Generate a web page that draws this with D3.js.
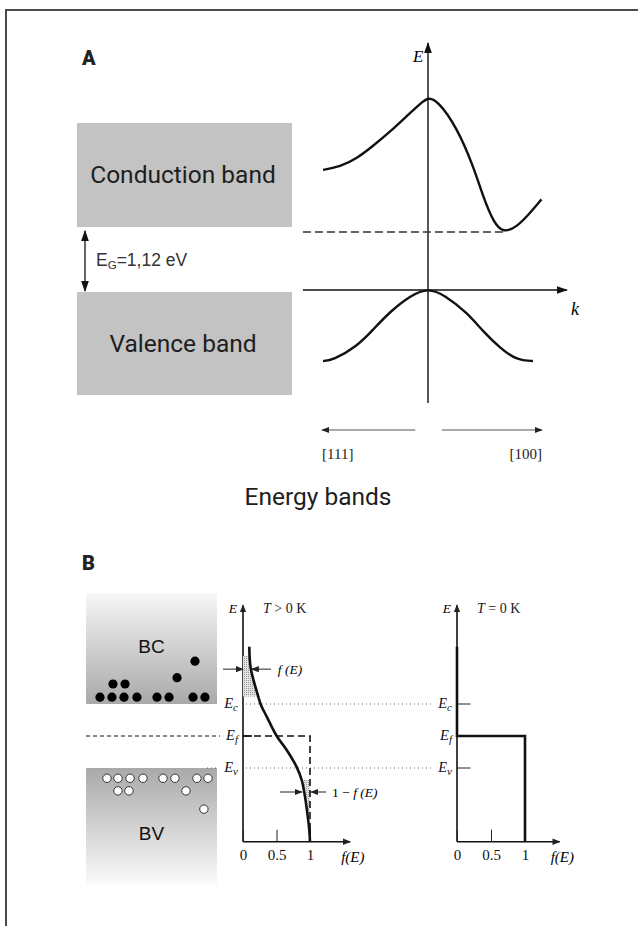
<!DOCTYPE html>
<html>
<head>
<meta charset="utf-8">
<script src="https://cdn.jsdelivr.net/npm/d3@7"></script>
<style>
  body { margin: 0; background: #fff; }
  svg { display: block; }
</style>
</head>
<body>
<script>
// --- data ---
// panel A: E(k) band curves, k in [-1 ([111]), 1 ([100])], E in eV
const condBand = [[-0.99, 2.32], [-0.83, 2.38], [-0.67, 2.54], [-0.52, 2.78], [-0.36, 3.05], [-0.2, 3.36],
  [-0.06, 3.62], [0, 3.72], [0.09, 3.66], [0.27, 3.15], [0.43, 2.38], [0.52, 1.8], [0.62, 1.3],
  [0.71, 1.1], [0.84, 1.22], [0.96, 1.48], [1.07, 1.75]];
const valBand = [[-0.99, -1.37], [-0.9, -1.36], [-0.67, -1.09], [-0.52, -0.77], [-0.36, -0.42], [-0.16, -0.1],
  [0, 0.04], [0.16, -0.1], [0.37, -0.44], [0.52, -0.8], [0.68, -1.12], [0.84, -1.36], [0.99, -1.37]];
const gapEnergy = 1.12;
const bandLabels = ["Conduction band", "Valence band"];
const dirLabels = ["[111]", "[100]"];

// panel B: Fermi-Dirac occupancy f(E), E relative to Ef (eV)
const fermiCurve = [[0.094, 1.56], [0.115, 1.19], [0.228, 0.69], [0.269, 0.54], [0.354, 0.34], [0.503, 0],
  [0.652, -0.245], [0.8, -0.54], [0.876, -0.77], [0.925, -1.06], [0.96, -1.35], [0.99, -1.65], [1, -1.85]];
const stepCurve = [[0, 1.56], [0, 0], [1, 0], [1, -1.85]];
const levels = [{ sub: "c", E: 0.56 }, { sub: "f", E: 0 }, { sub: "v", E: -0.56 }];
const fTicks = [0, 0.5, 1];
// electrons (filled) and holes (open): [position across band 0..1, E]
const electrons = [[0.107, 0.68], [0.198, 0.68], [0.29, 0.68], [0.389, 0.68], [0.542, 0.68], [0.634, 0.68],
  [0.817, 0.68], [0.908, 0.68], [0.206, 0.91], [0.298, 0.91], [0.695, 1.02], [0.832, 1.31]];
const holes = [[0.16, -0.74], [0.244, -0.74], [0.336, -0.74], [0.435, -0.74], [0.588, -0.74], [0.679, -0.74],
  [0.847, -0.74], [0.931, -0.74], [0.244, -0.96], [0.328, -0.96], [0.763, -0.96], [0.9, -1.28]];

const width = 638, height = 926;
const svg = d3.select("body").append("svg").attr("width", width).attr("height", height);
const defs = svg.append("defs");

// arrow heads
defs.append("marker").attr("id", "arr").attr("viewBox", "0 0 10 10").attr("refX", 9).attr("refY", 5)
  .attr("markerWidth", 11).attr("markerHeight", 11).attr("markerUnits", "userSpaceOnUse")
  .attr("orient", "auto-start-reverse")
  .append("path").attr("d", "M0,1.5L10,5L0,8.5Z").attr("fill", "#111");
defs.append("marker").attr("id", "arrs").attr("viewBox", "0 0 10 10").attr("refX", 9).attr("refY", 5)
  .attr("markerWidth", 8).attr("markerHeight", 8).attr("markerUnits", "userSpaceOnUse")
  .attr("orient", "auto-start-reverse")
  .append("path").attr("d", "M0,1L10,5L0,9Z").attr("fill", "#222");

const gBC = defs.append("linearGradient").attr("id", "gBC").attr("x1", 0).attr("y1", 0).attr("x2", 0).attr("y2", 1);
gBC.append("stop").attr("offset", "0%").attr("stop-color", "#f7f7f7");
gBC.append("stop").attr("offset", "100%").attr("stop-color", "#a9a9a9");
const gBV = defs.append("linearGradient").attr("id", "gBV").attr("x1", 0).attr("y1", 0).attr("x2", 0).attr("y2", 1);
gBV.append("stop").attr("offset", "0%").attr("stop-color", "#a9a9a9");
gBV.append("stop").attr("offset", "100%").attr("stop-color", "#fbfbfb");

const pat = defs.append("pattern").attr("id", "stip").attr("width", 2).attr("height", 2)
  .attr("patternUnits", "userSpaceOnUse");
pat.append("rect").attr("width", 2).attr("height", 2).attr("fill", "#e2e2e2");
pat.append("rect").attr("width", 1).attr("height", 1).attr("fill", "#9a9a9a");

// frame
svg.append("path").attr("d", `M6,${height}V10H${width}`).attr("fill", "none")
  .attr("stroke", "#4a4a4a").attr("stroke-width", 2);

const sans = "Roboto, 'DejaVu Sans', sans-serif";
const arial = "'Liberation Sans', Arial, sans-serif";
const serif = "'Liberation Serif', 'DejaVu Serif', serif";

// ===== panel A =====
svg.append("text").attr("x", 82).attr("y", 65).text("A")
  .attr("font-family", sans).attr("font-weight", 900).attr("font-size", 20).attr("fill", "#222");

const kx = d3.scaleLinear().domain([-1, 1]).range([322, 534]);
const ey = d3.scaleLinear().domain([0, gapEnergy]).range([290, 232]);

// band boxes on the left
const boxA = [{ top: 123, bot: 227, label: bandLabels[0] }, { top: 292, bot: 395, label: bandLabels[1] }];
svg.selectAll(".boxA").data(boxA).join("rect").attr("class", "boxA")
  .attr("x", 77).attr("width", 215).attr("y", d => d.top).attr("height", d => d.bot - d.top)
  .attr("fill", "#c3c3c3");
svg.selectAll(".boxAl").data(boxA).join("text").attr("class", "boxAl")
  .attr("x", 183).attr("y", d => (d.top + d.bot) / 2 + 8).attr("text-anchor", "middle")
  .attr("font-family", sans).attr("font-size", 24.5).attr("fill", "#1e1e1e").text(d => d.label);

// gap arrow
svg.append("line").attr("x1", 85).attr("x2", 85).attr("y1", 231).attr("y2", 291)
  .attr("stroke", "#111").attr("stroke-width", 1.3)
  .attr("marker-start", "url(#arr)").attr("marker-end", "url(#arr)");
const eg = svg.append("text").attr("x", 96).attr("y", 266).attr("font-family", arial)
  .attr("font-size", 17.5).attr("fill", "#333");
eg.append("tspan").text("E");
eg.append("tspan").attr("font-size", 11.5).attr("dy", 3).text("G");
eg.append("tspan").attr("dy", -3).text("=1,12 eV");

// axes
svg.append("line").attr("x1", kx(0)).attr("x2", kx(0)).attr("y1", ey(-2.18)).attr("y2", ey(4.77))
  .attr("stroke", "#111").attr("stroke-width", 1.4).attr("marker-end", "url(#arr)");
svg.append("line").attr("x1", kx(-1.18)).attr("x2", kx(1.31)).attr("y1", ey(0)).attr("y2", ey(0))
  .attr("stroke", "#111").attr("stroke-width", 1.4).attr("marker-end", "url(#arr)");
svg.append("text").attr("x", kx(0) - 15).attr("y", 62).text("E")
  .attr("font-family", serif).attr("font-style", "italic").attr("font-size", 17);
svg.append("text").attr("x", kx(1.35)).attr("y", 315).text("k")
  .attr("font-family", serif).attr("font-style", "italic").attr("font-size", 18);

// Ec dashed level
svg.append("line").attr("x1", kx(-1.18)).attr("x2", kx(0.71)).attr("y1", ey(gapEnergy)).attr("y2", ey(gapEnergy))
  .attr("stroke", "#333").attr("stroke-width", 1.3).attr("stroke-dasharray", "8,4");

const bandLine = d3.line().x(d => kx(d[0])).y(d => ey(d[1])).curve(d3.curveBasis);
svg.selectAll(".band").data([condBand, valBand]).join("path").attr("class", "band")
  .attr("d", bandLine).attr("fill", "none").attr("stroke", "#111").attr("stroke-width", 2.4);

// direction arrows
svg.append("line").attr("x1", kx(-0.12)).attr("x2", kx(-1)).attr("y1", 430).attr("y2", 430)
  .attr("stroke", "#555").attr("stroke-width", 1).attr("marker-end", "url(#arrs)");
svg.append("line").attr("x1", kx(0.13)).attr("x2", kx(1.075)).attr("y1", 430).attr("y2", 430)
  .attr("stroke", "#555").attr("stroke-width", 1).attr("marker-end", "url(#arrs)");
svg.append("text").attr("x", kx(-1)).attr("y", 459).text(dirLabels[0])
  .attr("font-family", serif).attr("font-size", 15).attr("fill", "#222");
svg.append("text").attr("x", kx(1.075)).attr("y", 459).attr("text-anchor", "end").text(dirLabels[1])
  .attr("font-family", serif).attr("font-size", 15).attr("fill", "#222");

svg.append("text").attr("x", 318).attr("y", 505).attr("text-anchor", "middle").text("Energy bands")
  .attr("font-family", sans).attr("font-size", 24.5).attr("fill", "#1e1e1e");

// ===== panel B =====
svg.append("text").attr("x", 82).attr("y", 570).text("B")
  .attr("font-family", sans).attr("font-weight", 900).attr("font-size", 20).attr("fill", "#222");

const yB = d3.scaleLinear().domain([0, 0.56]).range([736, 704]);
const xBand = d3.scaleLinear().domain([0, 1]).range([86, 217]);
const xF1 = d3.scaleLinear().domain([0, 1]).range([243, 310]);
const xF2 = d3.scaleLinear().domain([0, 1]).range([457, 525]);
const Ec = levels[0].E, Ef = levels[1].E, Ev = levels[2].E;

// band boxes
svg.append("rect").attr("x", xBand(0)).attr("width", xBand(1) - xBand(0))
  .attr("y", yB(2.5)).attr("height", yB(Ec) - yB(2.5)).attr("fill", "url(#gBC)");
svg.append("rect").attr("x", xBand(0)).attr("width", xBand(1) - xBand(0))
  .attr("y", yB(Ev)).attr("height", yB(-2.61) - yB(Ev)).attr("fill", "url(#gBV)");
svg.append("text").attr("x", xBand(0.5)).attr("y", yB(1.46)).attr("text-anchor", "middle").text("BC")
  .attr("font-family", arial).attr("font-size", 19).attr("fill", "#111");
svg.append("text").attr("x", xBand(0.5)).attr("y", yB(-1.82)).attr("text-anchor", "middle").text("BV")
  .attr("font-family", arial).attr("font-size", 19).attr("fill", "#111");

svg.selectAll(".el").data(electrons).join("circle").attr("class", "el")
  .attr("cx", d => xBand(d[0])).attr("cy", d => yB(d[1])).attr("r", 4.6).attr("fill", "#000");
svg.selectAll(".ho").data(holes).join("circle").attr("class", "ho")
  .attr("cx", d => xBand(d[0])).attr("cy", d => yB(d[1])).attr("r", 4.2)
  .attr("fill", "#fff").attr("stroke", "#222").attr("stroke-width", 0.9);

// level lines across both plots
svg.append("line").attr("x1", xBand(0)).attr("x2", 220).attr("y1", yB(Ef)).attr("y2", yB(Ef))
  .attr("stroke", "#111").attr("stroke-width", 1).attr("stroke-dasharray", "4,3");
[Ec, Ev].forEach(E => {
  svg.append("line").attr("x1", xF1(0) + 3).attr("x2", 434).attr("y1", yB(E)).attr("y2", yB(E))
    .attr("stroke", "#555").attr("stroke-width", 0.9).attr("stroke-dasharray", "1,3");
});
svg.append("line").attr("x1", 207).attr("x2", 219).attr("y1", yB(Ev)).attr("y2", yB(Ev))
  .attr("stroke", "#555").attr("stroke-width", 0.9).attr("stroke-dasharray", "1,3");

function levelLabel(x, E, sub) {
  const t = svg.append("text").attr("x", x).attr("y", yB(E) + 4).attr("text-anchor", "end")
    .attr("font-family", serif).attr("font-style", "italic").attr("font-size", 14.5).attr("fill", "#111");
  t.append("tspan").text("E");
  t.append("tspan").attr("font-size", 11).attr("dy", 3).text(sub);
}

function fermiPanel(xs, title, tipF) {
  const x0 = xs(0);
  svg.append("line").attr("x1", x0).attr("x2", x0).attr("y1", yB(-1.85)).attr("y2", yB(2.29))
    .attr("stroke", "#111").attr("stroke-width", 1.6).attr("marker-end", "url(#arrs)");
  svg.append("line").attr("x1", x0).attr("x2", xs(tipF)).attr("y1", yB(-1.85)).attr("y2", yB(-1.85))
    .attr("stroke", "#111").attr("stroke-width", 1.6).attr("marker-end", "url(#arrs)");
  const ax = svg.append("g").attr("transform", `translate(0,${yB(-1.85)})`)
    .call(d3.axisBottom(xs).tickValues(fTicks).tickSize(-12).tickPadding(8)
      .tickFormat(d => d === 0.5 ? "0.5" : d3.format("d")(d)));
  ax.select(".domain").remove();
  ax.selectAll(".tick line").attr("stroke", "#222");
  ax.selectAll("text").attr("font-family", serif).attr("font-size", 15).attr("fill", "#111");
  svg.append("text").attr("x", xs(tipF) - 9).attr("y", yB(-1.85) + 20).text("f(E)")
    .attr("font-family", serif).attr("font-style", "italic").attr("font-size", 15);
  svg.append("text").attr("x", x0 - 6).attr("y", yB(2.15)).attr("text-anchor", "end").text("E")
    .attr("font-family", serif).attr("font-style", "italic").attr("font-size", 13.5);
  const tt = svg.append("text").attr("x", x0 + 20).attr("y", yB(2.15))
    .attr("font-family", serif).attr("font-size", 14).attr("fill", "#222");
  tt.append("tspan").attr("font-style", "italic").text("T");
  tt.append("tspan").text(title);
  levels.forEach(l => levelLabel(x0 - 5, l.E, l.sub));
}

fermiPanel(xF1, " > 0 K", 1.6);
fermiPanel(xF2, " = 0 K", 1.51);

// shaded occupancy regions
const topShade = fermiCurve.filter(d => d[1] >= Ec && d[1] <= 1.4);
svg.append("path").datum([[0.1, 1.4], ...topShade])
  .attr("d", d3.area().x0(xF1(0)).x1(d => xF1(d[0])).y(d => yB(d[1])).curve(d3.curveCatmullRom))
  .attr("fill", "url(#stip)");
const botShade = fermiCurve.filter(d => d[1] <= Ev && d[1] >= -1.4);
svg.append("path").datum(botShade)
  .attr("d", d3.area().x0(d => xF1(d[0])).x1(xF1(1)).y(d => yB(d[1])).curve(d3.curveCatmullRom))
  .attr("fill", "url(#stip)");

// T=0 step (dashed on left, solid on right)
const stepLine1 = d3.line().x(d => xF1(d[0])).y(d => yB(d[1]));
svg.append("path").datum(stepCurve.slice(1)).attr("d", stepLine1).attr("fill", "none")
  .attr("stroke", "#111").attr("stroke-width", 1.6).attr("stroke-dasharray", "7,4");
svg.append("line").attr("x1", xF1(0)).attr("x2", xF1(0) + 9).attr("y1", yB(Ef)).attr("y2", yB(Ef))
  .attr("stroke", "#111").attr("stroke-width", 1.6);
const stepLine2 = d3.line().x(d => xF2(d[0])).y(d => yB(d[1]));
svg.append("path").datum(stepCurve).attr("d", stepLine2).attr("fill", "none")
  .attr("stroke", "#111").attr("stroke-width", 2.6);
[Ec, Ev].forEach(E => {
  svg.append("line").attr("x1", xF2(0)).attr("x2", xF2(0.2)).attr("y1", yB(E)).attr("y2", yB(E))
    .attr("stroke", "#222").attr("stroke-width", 1);
});

// Fermi-Dirac curve
svg.append("path").datum(fermiCurve)
  .attr("d", d3.line().x(d => xF1(d[0])).y(d => yB(d[1])).curve(d3.curveCatmullRom.alpha(0.5)))
  .attr("fill", "none").attr("stroke", "#111").attr("stroke-width", 2.6);

// f(E) and 1-f(E) pointer arrows
function pointer(xa, xb, y) {
  svg.append("line").attr("x1", xa).attr("x2", xb).attr("y1", y).attr("y2", y)
    .attr("stroke", "#222").attr("stroke-width", 1).attr("marker-end", "url(#arrs)");
}
const yf = yB(1.17);
pointer(xF1(0) - 20, xF1(0), yf);
pointer(xF1(0) + 28, xF1(0.115) + 1, yf);
svg.append("text").attr("x", xF1(0.52)).attr("y", yf + 5).text("f (E)")
  .attr("font-family", serif).attr("font-style", "italic").attr("font-size", 13.5);
const y1f = yB(-0.98);
pointer(xF1(0.55), xF1(0.91) - 2, y1f);
pointer(xF1(1.24), xF1(1) + 1, y1f);
const t1 = svg.append("text").attr("x", xF1(1.33)).attr("y", y1f + 5)
  .attr("font-family", serif).attr("font-size", 13.5);
t1.append("tspan").text("1 − ");
t1.append("tspan").attr("font-style", "italic").text("f (E)");
</script>
</body>
</html>
